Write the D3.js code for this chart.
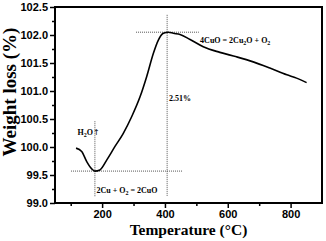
<!DOCTYPE html>
<html>
<head>
<meta charset="utf-8">
<script src="https://cdn.jsdelivr.net/npm/d3@7"></script>
<style>
  body { margin: 0; background: #fff; }
  .tick text { font-family: Arial, "Liberation Sans", sans-serif; font-weight: bold; font-size: 11px; }
  .ann { font-family: "Liberation Serif", "Times New Roman", serif; font-weight: bold; font-size: 8px; }
  .title { font-family: "Liberation Serif", "Times New Roman", serif; font-weight: bold; }
</style>
</head>
<body>
<div id="chart"></div>
<script>
//DATA
const temperature = [117, 135, 151, 167, 177, 193, 215, 241, 267, 294, 321, 342, 363, 379, 395, 411, 427, 448, 480, 522, 575, 628, 681, 734, 788, 819, 851];
const weight = [99.98, 99.92, 99.74, 99.61, 99.57, 99.59, 99.77, 100.01, 100.24, 100.54, 100.90, 101.26, 101.67, 101.91, 102.03, 102.05, 102.03, 102.01, 101.92, 101.79, 101.69, 101.61, 101.52, 101.41, 101.29, 101.23, 101.15];
const xTicks = [200, 400, 600, 800];
const xMinor = [100, 300, 500, 700];
const yTicks = [99.0, 99.5, 100.0, 100.5, 101.0, 101.5, 102.0, 102.5];
const yMinor = [99.25, 99.75, 100.25, 100.75, 101.25, 101.75, 102.25];
// guide lines: [x1, y1, x2, y2] in data units
const guides = [
  [101, 99.57, 457, 99.57],
  [177, 100.46, 177, 99.11],
  [308, 102.05, 508, 102.05],
  [407, 102.36, 407, 99.11]
];
// parts: [text, kind] kind 0 = normal, 1 = subscript, 2 = symbol
const notes = [
  {t: 122, v: 100.22, parts: [['H', 0], ['2', 1], ['O', 0], ['↑', 2]]},
  {t: 182, v: 99.18, parts: [['2Cu + O', 0], ['2', 1], [' = 2CuO', 0]]},
  {t: 413, v: 100.83, parts: [['2.51%', 0]]},
  {t: 512, v: 101.86, parts: [['4CuO = 2Cu', 0], ['2', 1], ['O + O', 0], ['2', 1]]}
];

//SIZES
const width = 326, height = 241;
const margin = {top: 7, right: 4, bottom: 38, left: 55};

const svg = d3.select("#chart").append("svg").attr("width", width).attr("height", height);

const x = d3.scaleLinear().domain([50, 900]).range([margin.left, width - margin.right]);
const y = d3.scaleLinear().domain([99.0, 102.5]).range([height - margin.bottom, margin.top]);

//AXES
svg.append("g").attr("transform", "translate(0," + y(99.0) + ")")
    .call(d3.axisBottom(x).tickValues(xTicks).tickSize(5).tickPadding(2).tickFormat(d3.format("d")))
    .call(g => g.select(".domain").remove());
svg.append("g").attr("transform", "translate(0," + y(99.0) + ")")
    .call(d3.axisBottom(x).tickValues(xMinor).tickSize(3).tickFormat(""))
    .call(g => g.select(".domain").remove());
svg.append("g").attr("transform", "translate(" + x(50) + ",0)")
    .call(d3.axisLeft(y).tickValues(yTicks).tickSize(5).tickPadding(2).tickFormat(d3.format(".1f")))
    .call(g => g.select(".domain").remove());
svg.append("g").attr("transform", "translate(" + x(50) + ",0)")
    .call(d3.axisLeft(y).tickValues(yMinor).tickSize(3).tickFormat(""))
    .call(g => g.select(".domain").remove());
svg.selectAll(".tick line").attr("stroke", "#000").attr("stroke-width", 1.5);

//FRAME
svg.append("rect")
    .attr("x", x(50)).attr("y", y(102.5))
    .attr("width", x(900) - x(50)).attr("height", y(99.0) - y(102.5))
    .attr("fill", "none").attr("stroke", "#000").attr("stroke-width", 2);

//GUIDES
svg.selectAll(".guide").data(guides).enter().append("line")
    .attr("class", "guide")
    .attr("x1", d => x(d[0])).attr("y1", d => y(d[1]))
    .attr("x2", d => x(d[2])).attr("y2", d => y(d[3]))
    .attr("stroke", "#555").attr("stroke-width", 1).attr("stroke-dasharray", "1,1");

//CURVE
const pts = temperature.map((t, i) => [t, weight[i]]);
svg.append("path")
    .attr("d", d3.line().x(d => x(d[0])).y(d => y(d[1])).curve(d3.curveMonotoneX)(pts))
    .attr("fill", "none").attr("stroke", "#000").attr("stroke-width", 1.6);

//ANNOTATIONS
notes.forEach(n => {
  const txt = svg.append("text").attr("class", "ann").attr("x", x(n.t)).attr("y", y(n.v));
  let low = false;
  n.parts.forEach(p => {
    const s = txt.append("tspan").text(p[0]);
    if (p[1] == 1) { s.attr("font-size", "6px").attr("dy", 2); low = true; }
    else if (low) { s.attr("dy", -2); low = false; }
    if (p[1] == 2) s.attr("font-family", "DejaVu Sans").attr("font-weight", "normal");
  });
});

//TITLES
svg.append("text").attr("class", "title")
    .attr("x", (x(50) + x(900)) / 2).attr("y", 235)
    .attr("text-anchor", "middle").attr("font-size", 15.5)
    .text("Temperature (°C)");
svg.append("text").attr("class", "title")
    .attr("transform", "translate(16," + 92 + ") rotate(-90)")
    .attr("text-anchor", "middle").attr("font-size", 19)
    .text("Weight loss (%)");
</script>
</body>
</html>
